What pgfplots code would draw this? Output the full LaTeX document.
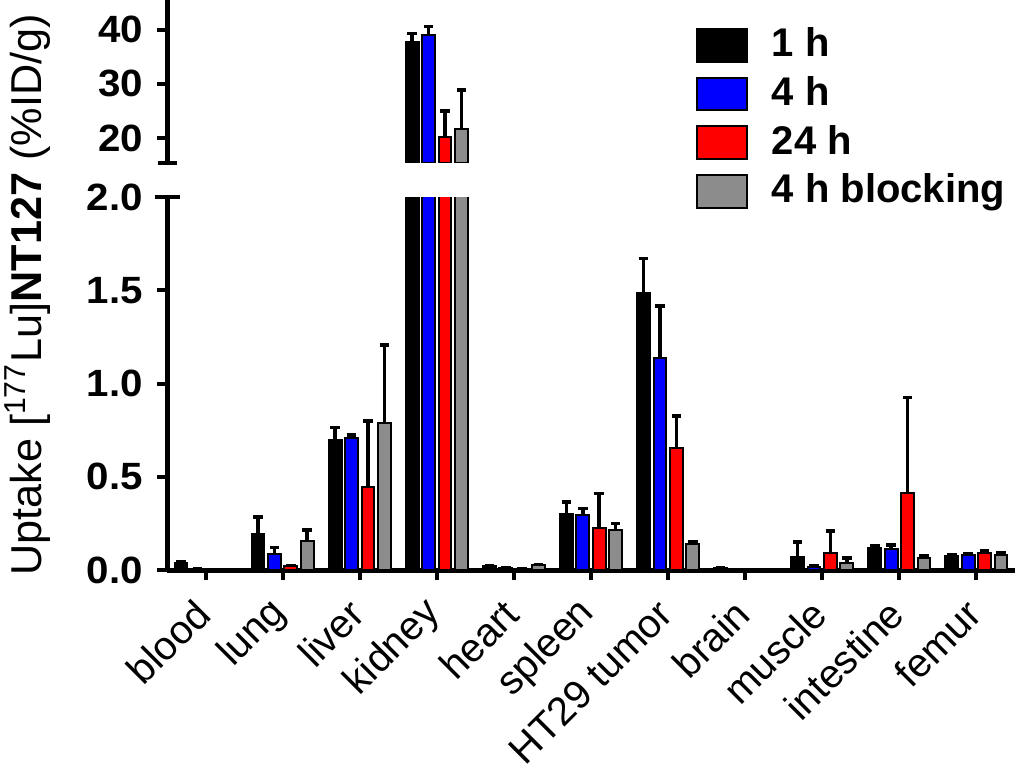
\documentclass[border=0pt]{standalone}
\usepackage{fontspec}
\setmainfont{Liberation Sans}
\newfontfamily\tickfont{Liberation Sans}[FakeStretch=1.06]
\usepackage{pgfplots}
\pgfplotsset{compat=1.18}
\usepackage{pgfplotstable}
\definecolor{bgray}{RGB}{140,140,140}

\pgfplotstableread{
x y1 e1 y2 e2 y3 e3 y4 e4
0 0.040 0.005 0.005 0.000 0.002 0.000 0.002 0.000
1 0.195 0.090 0.085 0.035 0.020 0.005 0.155 0.060
2 0.695 0.070 0.710 0.015 0.445 0.355 0.790 0.415
3 37.8 1.5 39.1 1.5 20.2 4.8 21.6 7.3
4 0.020 0.003 0.012 0.000 0.005 0.000 0.025 0.005
5 0.300 0.065 0.295 0.035 0.225 0.185 0.215 0.035
6 1.485 0.185 1.135 0.280 0.655 0.170 0.140 0.010
7 0.010 0.000 0.000 0.000 0.000 0.000 0.000 0.000
8 0.070 0.080 0.015 0.005 0.090 0.120 0.035 0.030
9 0.120 0.010 0.115 0.020 0.415 0.510 0.065 0.010
10 0.075 0.005 0.080 0.005 0.090 0.015 0.080 0.010
}\data

\pgfplotstableread{
x y1 e1 y2 e2 y3 e3 y4 e4
3 37.8 1.5 39.1 1.5 20.2 4.8 21.6 7.3
}\kidney

\begin{document}
\begin{tikzpicture}
\useasboundingbox (0,0) rectangle (256pt,193pt);
\pgfplotsset{
 base/.style={
  scale only axis, width=212pt, xmin=-0.5, xmax=10.5, enlargelimits=false,
  ybar=0.9pt, bar width=3.2pt,
  axis line style={-, line width=1.25pt},
  every tick/.style={black, line width=1pt},
  major tick length=2.5pt, tick align=outside,
  yticklabel style={font=\tickfont\bfseries\fontsize{9.5}{10}\selectfont},
  /pgf/number format/assume math mode=true,
  error bars/y dir=plus, error bars/y explicit,
  error bars/error bar style={line width=0.9pt, black},
  error bars/error mark options={rotate=90, mark size=1.2pt, line width=0.9pt, black},
 },
 s1/.style={fill=black, draw=black, line width=0.5pt},
 s2/.style={fill=blue, draw=black, line width=0.5pt},
 s3/.style={fill=red, draw=black, line width=0.5pt},
 s4/.style={fill=bgray, draw=black, line width=0.5pt},
}
\begin{axis}[base, at={(41.75pt,50.5pt)}, anchor=south west, height=93.25pt,
  ymin=0, ymax=2, ytick={0,0.5,1,1.5,2},
  yticklabel style={/pgf/number format/.cd, fixed, fixed zerofill, precision=1},
  axis x line*=bottom, axis y line*=left,
  xtick={0,...,10},
  xticklabels={blood,lung,liver,kidney,heart,spleen,HT29 tumor,brain,muscle,intestine,femur},
  xticklabel style={xshift=1.8pt, yshift=-4.3pt, rotate=45, anchor=east, font=\fontsize{10}{11}\selectfont},
  extra y ticks={2}, extra y tick labels={},
  extra y tick style={tick align=center, major tick length=6.25pt}]
\addplot[s1] table[x=x, y=y1, y error=e1] {\data};
\addplot[s2] table[x=x, y=y2, y error=e2] {\data};
\addplot[s3] table[x=x, y=y3, y error=e3] {\data};
\addplot[s4] table[x=x, y=y4, y error=e4] {\data};
\end{axis}
\begin{axis}[base, at={(41.75pt,152.25pt)}, anchor=south west, height=40.75pt,
  ymin=15.4, ymax=45.5, ytick={20,30,40},
  axis x line=none, axis y line*=left,
  extra y ticks={15.4}, extra y tick labels={},
  extra y tick style={tick align=center, major tick length=4.75pt},
  legend style={at={(0.6226,0.834)}, anchor=north west, draw=none, fill=none,
    inner sep=0pt, row sep=3.4pt, column sep=6pt,
    font=\bfseries\fontsize{10}{12}\selectfont,
    nodes={inner sep=0pt}},
  legend cell align=left,
  legend image code/.code={\draw[#1, line width=0.5pt] (0pt,-4.1pt) rectangle (12.5pt,4.1pt);}]
\addplot[s1] table[x=x, y=y1, y error=e1] {\kidney};
\addplot[s2] table[x=x, y=y2, y error=e2] {\kidney};
\addplot[s3] table[x=x, y=y3, y error=e3] {\kidney};
\addplot[s4] table[x=x, y=y4, y error=e4] {\kidney};
\legend{1 h, 4 h, 24 h, 4 h blocking}
\end{axis}
\node[rotate=90, anchor=base, font=\fontsize{10.8}{12}\selectfont] at (10.25pt,119.25pt)
  {Uptake [\textsuperscript{177}Lu]\textbf{NT127} (\%ID/g)};
\end{tikzpicture}
\end{document}
